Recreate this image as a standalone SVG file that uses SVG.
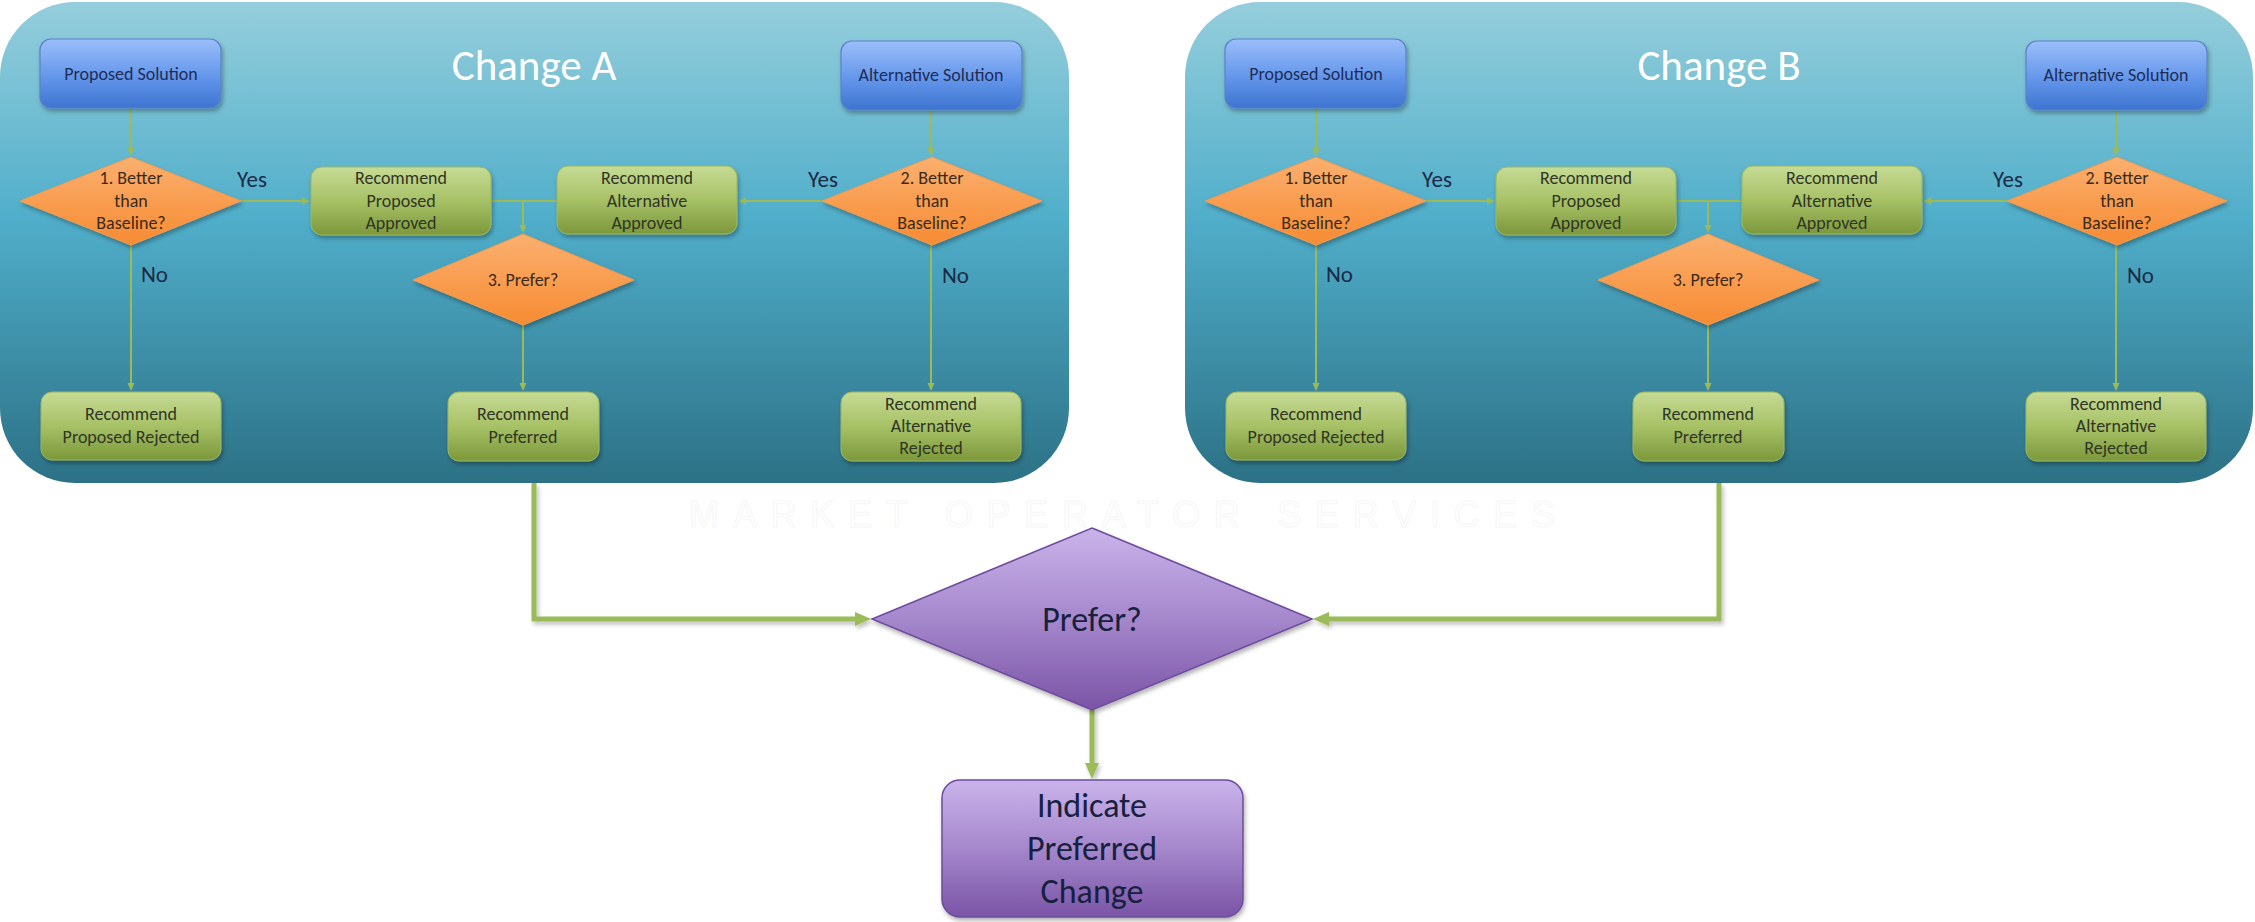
<svg xmlns="http://www.w3.org/2000/svg" width="2255" height="922" viewBox="0 0 2255 922">
<defs>
<linearGradient id="gPanel" x1="0" y1="0" x2="0" y2="1">
<stop offset="0" stop-color="#95CEDC"/>
<stop offset="0.45" stop-color="#50AECA"/>
<stop offset="1" stop-color="#2C7186"/>
</linearGradient>
<linearGradient id="gBlue" x1="0" y1="0" x2="0" y2="1">
<stop offset="0" stop-color="#9BBEFA"/>
<stop offset="0.55" stop-color="#6396EA"/>
<stop offset="1" stop-color="#3E74D0"/>
</linearGradient>
<linearGradient id="gGreen" x1="0" y1="0" x2="0" y2="1">
<stop offset="0" stop-color="#C6DB95"/>
<stop offset="0.5" stop-color="#A7C166"/>
<stop offset="1" stop-color="#7C983B"/>
</linearGradient>
<linearGradient id="gOrange" x1="0" y1="0" x2="0" y2="1">
<stop offset="0" stop-color="#FBB070"/>
<stop offset="1" stop-color="#F78B32"/>
</linearGradient>
<linearGradient id="gPurple" x1="0" y1="0" x2="0" y2="1">
<stop offset="0" stop-color="#CAB3EA"/>
<stop offset="0.5" stop-color="#A587CC"/>
<stop offset="1" stop-color="#7A54A6"/>
</linearGradient>
<filter id="shadow" x="-20%" y="-20%" width="140%" height="150%">
<feDropShadow dx="1.5" dy="3" stdDeviation="2" flood-color="#000" flood-opacity="0.3"/>
</filter>
<filter id="lshadow" filterUnits="userSpaceOnUse" x="0" y="0" width="2255" height="922">
<feDropShadow dx="2" dy="3" stdDeviation="2" flood-color="#000" flood-opacity="0.25"/>
</filter>
<marker id="arr" markerUnits="userSpaceOnUse" markerWidth="9" markerHeight="8" refX="1" refY="3.5" orient="auto">
<path d="M0,0 L8,3.5 L0,7 z" fill="#9BBB59"/>
</marker>
<marker id="arrBig" markerUnits="userSpaceOnUse" markerWidth="17" markerHeight="15" refX="1" refY="7" orient="auto">
<path d="M0,0 L16,7 L0,14 z" fill="#9BBB59"/>
</marker>
</defs>
<style>
.panel{fill:url(#gPanel);}
.title{font-family:Carlito,Calibri,Lato,"Liberation Sans",sans-serif;font-size:43px;fill:#FFFFFF;text-anchor:middle;}
.blue{fill:url(#gBlue);stroke:#5A82C8;stroke-width:1.2;filter:url(#shadow);}
.green{fill:url(#gGreen);stroke:#9AB660;stroke-width:1;filter:url(#shadow);}
.orange{fill:url(#gOrange);stroke:#F49A4C;stroke-width:1;filter:url(#shadow);}
.purple{fill:url(#gPurple);stroke:#6E4C9C;stroke-width:1.5;filter:url(#shadow);}
.t{font-family:Carlito,Calibri,Lato,"Liberation Sans",sans-serif;font-size:18px;text-anchor:middle;}
.tb{fill:#1E2C58;}
.tg{fill:#2F3524;}
.to{fill:#3A2A1C;}
.lbl{font-family:Carlito,Calibri,Lato,"Liberation Sans",sans-serif;font-size:23px;fill:#1B2A48;}
.big{font-family:Carlito,Calibri,Lato,"Liberation Sans",sans-serif;font-size:34px;fill:#16213E;text-anchor:middle;}
.c{fill:none;stroke:#9BBB59;stroke-width:2;}
.ca{fill:none;stroke:#9BBB59;stroke-width:2;marker-end:url(#arr);}
.cb{fill:none;stroke:#9BBB59;stroke-width:5;marker-end:url(#arrBig);filter:url(#lshadow);}
.wm{font-family:"Liberation Sans",sans-serif;font-size:36px;fill:#FFFFFF;stroke:#F6F6F6;stroke-width:1;}
</style>
<rect width="2255" height="922" fill="#FFFFFF"/>
<text class="wm" x="689" y="527" textLength="866" lengthAdjust="spacing">MARKET OPERATOR SERVICES</text>

<g id="changeA">
<g id="panelA"><rect class="panel" x="0" y="2" width="1069" height="481" rx="75"/>
<text class="title" x="534" y="80">Change A</text></g>
<g id="a-connectors">
<path class="ca" d="M131,108 L131,149"/>
<path class="ca" d="M241,201 L303,201"/>
<path class="ca" d="M131,245 L131,384"/>
<path class="c" d="M491,201 L557,201"/>
<path class="ca" d="M523,201 L523,226"/>
<path class="ca" d="M523,325 L523,384"/>
<path class="ca" d="M931,110 L931,149"/>
<path class="ca" d="M822,201 L745,201"/>
<path class="ca" d="M931,245 L931,384"/>
<text class="lbl" x="252" y="187" text-anchor="middle">Yes</text>
<text class="lbl" x="823" y="187" text-anchor="middle">Yes</text>
<text class="lbl" x="141" y="282">No</text>
<text class="lbl" x="942" y="283">No</text>
</g>
<g id="a-proposed"><rect class="blue" x="40" y="39" width="181" height="69" rx="11"/>
<text class="t tb" x="131" y="80">Proposed Solution</text></g>
<g id="a-alternative"><rect class="blue" x="841" y="41" width="181" height="69" rx="11"/>
<text class="t tb" x="931" y="81">Alternative Solution</text></g>
<g id="a-better1"><polygon class="orange" points="131,157 241,201 131,245 20,201"/>
<text class="t to" x="131" y="184">1. Better</text><text class="t to" x="131" y="207">than</text><text class="t to" x="131" y="229">Baseline?</text></g>
<g id="a-better2"><polygon class="orange" points="932,157 1042,201 932,245 822,201"/>
<text class="t to" x="932" y="184">2. Better</text><text class="t to" x="932" y="207">than</text><text class="t to" x="932" y="229">Baseline?</text></g>
<g id="a-propApproved"><rect class="green" x="311" y="167" width="180" height="68" rx="11"/>
<text class="t tg" x="401" y="184">Recommend</text><text class="t tg" x="401" y="207">Proposed</text><text class="t tg" x="401" y="229">Approved</text></g>
<g id="a-altApproved"><rect class="green" x="557" y="166" width="180" height="68" rx="11"/>
<text class="t tg" x="647" y="184">Recommend</text><text class="t tg" x="647" y="207">Alternative</text><text class="t tg" x="647" y="229">Approved</text></g>
<g id="a-prefer"><polygon class="orange" points="523,234 634,280 523,325 413,280"/>
<text class="t to" x="523" y="286">3. Prefer?</text></g>
<g id="a-propRejected"><rect class="green" x="41" y="392" width="180" height="68" rx="11"/>
<text class="t tg" x="131" y="420">Recommend</text><text class="t tg" x="131" y="443">Proposed Rejected</text></g>
<g id="a-preferred"><rect class="green" x="448" y="392" width="151" height="69" rx="11"/>
<text class="t tg" x="523" y="420">Recommend</text><text class="t tg" x="523" y="443">Preferred</text></g>
<g id="a-altRejected"><rect class="green" x="841" y="392" width="180" height="69" rx="11"/>
<text class="t tg" x="931" y="410">Recommend</text><text class="t tg" x="931" y="432">Alternative</text><text class="t tg" x="931" y="454">Rejected</text></g>
</g>

<g id="changeB" transform="translate(1185,0)">
<g id="panelB"><rect class="panel" x="0" y="2" width="1068" height="481" rx="75"/>
<text class="title" x="534" y="80">Change B</text></g>
<g id="b-connectors">
<path class="ca" d="M131,108 L131,149"/>
<path class="ca" d="M241,201 L303,201"/>
<path class="ca" d="M131,245 L131,384"/>
<path class="c" d="M491,201 L557,201"/>
<path class="ca" d="M523,201 L523,226"/>
<path class="ca" d="M523,325 L523,384"/>
<path class="ca" d="M931,110 L931,149"/>
<path class="ca" d="M822,201 L745,201"/>
<path class="ca" d="M931,245 L931,384"/>
<text class="lbl" x="252" y="187" text-anchor="middle">Yes</text>
<text class="lbl" x="823" y="187" text-anchor="middle">Yes</text>
<text class="lbl" x="141" y="282">No</text>
<text class="lbl" x="942" y="283">No</text>
</g>
<g id="b-proposed"><rect class="blue" x="40" y="39" width="181" height="69" rx="11"/>
<text class="t tb" x="131" y="80">Proposed Solution</text></g>
<g id="b-alternative"><rect class="blue" x="841" y="41" width="181" height="69" rx="11"/>
<text class="t tb" x="931" y="81">Alternative Solution</text></g>
<g id="b-better1"><polygon class="orange" points="131,157 241,201 131,245 20,201"/>
<text class="t to" x="131" y="184">1. Better</text><text class="t to" x="131" y="207">than</text><text class="t to" x="131" y="229">Baseline?</text></g>
<g id="b-better2"><polygon class="orange" points="932,157 1042,201 932,245 822,201"/>
<text class="t to" x="932" y="184">2. Better</text><text class="t to" x="932" y="207">than</text><text class="t to" x="932" y="229">Baseline?</text></g>
<g id="b-propApproved"><rect class="green" x="311" y="167" width="180" height="68" rx="11"/>
<text class="t tg" x="401" y="184">Recommend</text><text class="t tg" x="401" y="207">Proposed</text><text class="t tg" x="401" y="229">Approved</text></g>
<g id="b-altApproved"><rect class="green" x="557" y="166" width="180" height="68" rx="11"/>
<text class="t tg" x="647" y="184">Recommend</text><text class="t tg" x="647" y="207">Alternative</text><text class="t tg" x="647" y="229">Approved</text></g>
<g id="b-prefer"><polygon class="orange" points="523,234 634,280 523,325 413,280"/>
<text class="t to" x="523" y="286">3. Prefer?</text></g>
<g id="b-propRejected"><rect class="green" x="41" y="392" width="180" height="68" rx="11"/>
<text class="t tg" x="131" y="420">Recommend</text><text class="t tg" x="131" y="443">Proposed Rejected</text></g>
<g id="b-preferred"><rect class="green" x="448" y="392" width="151" height="69" rx="11"/>
<text class="t tg" x="523" y="420">Recommend</text><text class="t tg" x="523" y="443">Preferred</text></g>
<g id="b-altRejected"><rect class="green" x="841" y="392" width="180" height="69" rx="11"/>
<text class="t tg" x="931" y="410">Recommend</text><text class="t tg" x="931" y="432">Alternative</text><text class="t tg" x="931" y="454">Rejected</text></g>
</g>

<g id="connectors">
<path class="cb" d="M534,483 L534,619 L856,619"/>
<path class="cb" d="M1719,483 L1719,619 L1328,619"/>
<path class="cb" d="M1092,710 L1092,764"/>
</g>
<g id="finalPrefer"><polygon class="purple" points="1092,528 1312,619 1092,710 872,619"/>
<text class="big" x="1092" y="631">Prefer?</text></g>
<g id="indicate"><rect class="purple" x="942" y="780" width="301" height="137" rx="18"/>
<text class="big" x="1092" y="817">Indicate</text><text class="big" x="1092" y="860">Preferred</text><text class="big" x="1092" y="903">Change</text></g>
</svg>
